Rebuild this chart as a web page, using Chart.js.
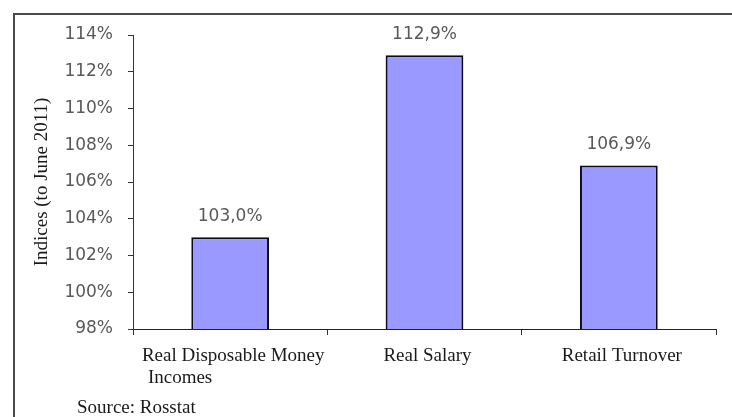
<!DOCTYPE html>
<html>
<head>
<meta charset="utf-8">
<script src="https://cdn.jsdelivr.net/npm/chart.js@4/dist/chart.umd.min.js"></script>
<style>
  html, body { margin: 0; padding: 0; background: #fff; }
  #wrap { width: 732px; height: 417px; position: relative; }
</style>
</head>
<body>
<div id="wrap"><canvas id="c" width="732" height="417"></canvas></div>
<script>
const categories = [["Real Disposable Money", "Incomes"], ["Real Salary"], ["Retail Turnover"]];
const values = [103.0, 112.9, 106.9];
const yTickMin = 98;
const yTickMax = 114;
const yTickStep = 2;
const yAxisTitle = "Indices (to June 2011)";
const sourceNote = "Source: Rosstat";

const serif = '"Liberation Serif", "Times New Roman", serif';
const sans = '"DejaVu Sans", Verdana, sans-serif';

const framePlugin = {
  id: 'frame',
  beforeDraw(chart) {
    const ctx = chart.ctx;
    ctx.save();
    ctx.fillStyle = '#fff';
    ctx.fillRect(0, 0, chart.width, chart.height);
    ctx.strokeStyle = '#4a4a4a';
    ctx.lineWidth = 2;
    ctx.beginPath();
    ctx.moveTo(14, chart.height);
    ctx.lineTo(14, 14);
    ctx.lineTo(chart.width, 14);
    ctx.stroke();
    ctx.restore();
  }
};

const labelsPlugin = {
  id: 'customLabels',
  afterDraw(chart) {
    const ctx = chart.ctx;
    const xs = chart.scales.x;
    const meta = chart.getDatasetMeta(0);
    ctx.save();
    // value labels
    ctx.font = '17px ' + sans;
    ctx.fillStyle = '#595959';
    ctx.textAlign = 'center';
    ctx.textBaseline = 'alphabetic';
    meta.data.forEach((bar, i) => {
      const txt = values[i].toFixed(1).replace('.', ',') + '%';
      ctx.fillText(txt, bar.x, bar.y - 16);
    });
    // category labels
    ctx.font = '19px ' + serif;
    ctx.fillStyle = '#1a1a1a';
    const base = chart.chartArea.bottom + 32;
    categories.forEach((lines, i) => {
      const cx = xs.getPixelForValue(i) + 3;
      const w0 = ctx.measureText(lines[0]).width;
      const left = cx - w0 / 2;
      ctx.textAlign = 'center';
      ctx.fillText(lines[0], cx, base);
      ctx.textAlign = 'left';
      for (let k = 1; k < lines.length; k++) {
        ctx.fillText(lines[k], left + 6, base + 22 * k);
      }
    });
    // source
    ctx.textAlign = 'left';
    ctx.fillStyle = '#1a1a1a';
    ctx.fillText(sourceNote, 77, 413);
    ctx.restore();
  }
};

new Chart(document.getElementById('c'), {
  type: 'bar',
  data: {
    labels: categories,
    datasets: [{
      data: values,
      backgroundColor: '#9999FF',
      borderColor: '#0a0a1a',
      borderWidth: 2,
      barPercentage: 0.4,
      categoryPercentage: 1.0
    }]
  },
  options: {
    responsive: false,
    animation: false,
    devicePixelRatio: 1,
    layout: { padding: { left: 0, right: 16, top: 35, bottom: 0 } },
    plugins: {
      legend: { display: false },
      tooltip: { enabled: false },
      title: { display: false }
    },
    scales: {
      x: {
        afterFit(scale) { scale.height = 88; },
        ticks: { display: false },
        grid: { drawOnChartArea: false, drawTicks: true, tickLength: 6, color: '#333', offset: true },
        border: { display: true, color: '#222', width: 1 }
      },
      y: {
        min: yTickMin,
        max: yTickMax,
        afterFit(scale) { scale.width = 133; },
        ticks: {
          stepSize: yTickStep,
          padding: 15,
          color: '#595959',
          font: { family: sans, size: 17 },
          callback: (v) => v + '%'
        },
        grid: { drawOnChartArea: false, drawTicks: true, tickLength: 5, color: '#333' },
        border: { display: true, color: '#333', width: 1 },
        title: {
          display: true,
          text: yAxisTitle,
          color: '#1a1a1a',
          font: { family: serif, size: 19 },
          padding: { top: 31, bottom: 0 }
        }
      }
    }
  },
  plugins: [framePlugin, labelsPlugin]
});
</script>
</body>
</html>
